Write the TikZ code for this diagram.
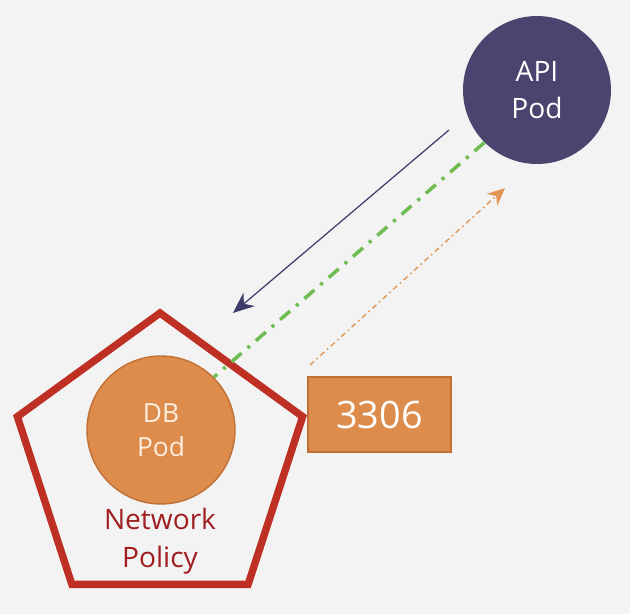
\documentclass[tikz,border=0pt]{standalone}
\usepackage{fontspec}
\setmainfont{Open Sans}
\usetikzlibrary{shapes.geometric,arrows.meta}

\definecolor{bgGray}{RGB}{243,243,243}
\definecolor{apiPurple}{RGB}{74,68,110}
\definecolor{dbOrange}{RGB}{222,140,76}
\definecolor{dbEdge}{RGB}{192,112,52}
\definecolor{policyRed}{RGB}{190,48,36}
\definecolor{policyText}{RGB}{160,30,32}
\definecolor{allowGreen}{RGB}{110,188,82}
\definecolor{portOrange}{RGB}{226,150,84}
\definecolor{queryBlue}{RGB}{62,60,104}

\begin{document}
\begin{tikzpicture}[x=0.02cm, y=-0.02cm,
      pod/.style = {circle, minimum size=2.96cm, inner sep=0pt,
        align=center, font=\fontsize{15}{19.5}\selectfont},
      policy/.style = {regular polygon, regular polygon sides=5,
        draw=policyRed, line width=4.2pt, minimum size=6cm, inner sep=0pt},
      port/.style = {rectangle, fill=dbOrange, draw=dbEdge, line width=0.8pt,
        minimum width=2.86cm, minimum height=1.5cm, text=white,
        font=\fontsize{21.5}{24}\selectfont},
      query/.style = {draw=queryBlue, line width=0.7pt,
        -{Stealth[length=12pt,width=10pt]}},
      allow/.style = {draw=allowGreen, line width=2pt,
        dash pattern=on 7.5pt off 4.5pt on 1.8pt off 4.5pt},
      reply/.style = {draw=portOrange, line width=0.8pt,
        dash pattern=on 3pt off 2pt on 1pt off 2pt,
        -{Stealth[length=10pt,width=9pt]}}]
  \fill[bgGray] (0,0) rectangle (630,614);
  \useasboundingbox (0,0) rectangle (630,614);

  \node[policy] (policy) at (160,463) {};
  \node[pod, fill=dbOrange, draw=dbEdge, line width=0.8pt,
    text={rgb,255:red,252;green,238;blue,224}] (db) at (161,430) {DB\\Pod};
  \node[text=policyText, align=center,
    font=\fontsize{16}{21.5}\selectfont] (label) at (160,541) {Network\\Policy};
  \node[pod, fill=apiPurple, text=white,
    font=\fontsize{16}{21}\selectfont] (api) at (537,90) {API\\Pod};
  \node[port] (port) at (379.5,414.5) {3306};

  \coordinate (qfrom) at (449,130);
  \coordinate (qto) at (233,313);
  \coordinate (rfrom) at (310,365);
  \coordinate (rto) at (505,188);

  \draw[query] (qfrom) -- (qto);
  \draw[allow] (api.south west) -- (db.north east);
  \draw[reply] (rfrom) -- (rto);
\end{tikzpicture}
\end{document}
